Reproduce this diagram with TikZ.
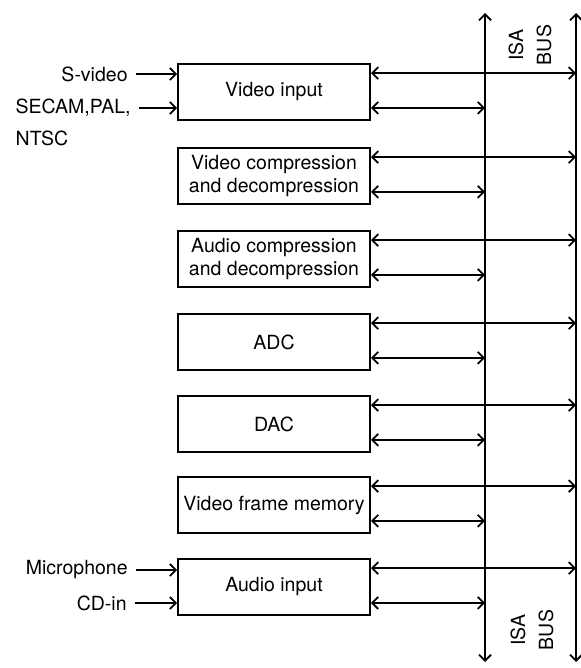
\documentclass[tikz,border=0pt]{standalone}
\usepackage{fontspec}
\setmainfont{TeX Gyre Heros}
\usetikzlibrary{arrows.meta,positioning}

\tikzset{
    block/.style={draw, line width=0.9pt, minimum width=96pt, minimum height=28pt,
        inner sep=2pt, align=center, font=\fontsize{9.75}{11.5}\selectfont},
    lbl/.style={inner xsep=4pt, inner ysep=1pt, font=\fontsize{9.75}{11.5}\selectfont},
    buslbl/.style={rotate=90, align=center, inner sep=0pt, font=\fontsize{9.75}{14}\selectfont},
    wire/.style={line width=0.9pt, arrows={Straight Barb[length=3pt,width=6pt]-Straight Barb[length=3pt,width=6pt]}},
    feed/.style={line width=0.9pt, -{Straight Barb[length=3pt,width=6pt]}}
}

\begin{document}
\begin{tikzpicture}[x=0.5pt, y=-0.5pt]
    \useasboundingbox (0,0) rectangle (580,668);

    % the two bus lines
    \coordinate (busLtop) at (485,13);
    \coordinate (busLbot) at (485,662);
    \coordinate (busRtop) at (576,13);
    \coordinate (busRbot) at (576,662);
    \draw[wire] (busLtop) -- (busLbot);
    \draw[wire] (busRtop) -- (busRbot);

    \node[buslbl] (bustop) at (530,45) {ISA\\BUS};
    \node[buslbl] (busbot) at (532,630) {ISA\\BUS};

    % blocks
    \foreach \name/\ypos/\txt in {vin/92/{Video input},
            vcomp/176/{Video compression\\and decompression},
            acomp/259/{Audio compression\\and decompression},
            adc/342/{ADC}, dac/424/{DAC},
            vfm/505/{Video frame memory}, ain/587/{Audio input}}
        \node[block] (\name) at (274,\ypos) {\txt};

    % connections to the bus
    \foreach \name in {vin,vcomp,acomp,adc,dac,vfm,ain} {
        \draw[wire] ([yshift=-5pt]\name.north east) -- ([yshift=-5pt]\name.north east -| busRtop);
        \draw[wire] ([yshift=6.5pt]\name.south east) -- ([yshift=6.5pt]\name.south east -| busLtop);
    }

    % inputs
    \node[lbl, anchor=east] (svid) at (136,74) {S-video};
    \node[lbl, anchor=east] (secam) at (139,108) {SECAM,PAL,};
    \node[lbl, anchor=west] (ntsc) at (secam.west |- 0,138) {NTSC};
    \node[lbl, anchor=east] (mic) at (136,570) {Microphone};
    \node[lbl, anchor=east] (cdin) at (135,603) {CD-in};

    \draw[feed] (svid) -- (svid -| vin.west);
    \draw[feed] (secam) -- (secam -| vin.west);
    \draw[feed] (mic) -- (mic -| ain.west);
    \draw[feed] (cdin) -- (cdin -| ain.west);
\end{tikzpicture}
\end{document}
